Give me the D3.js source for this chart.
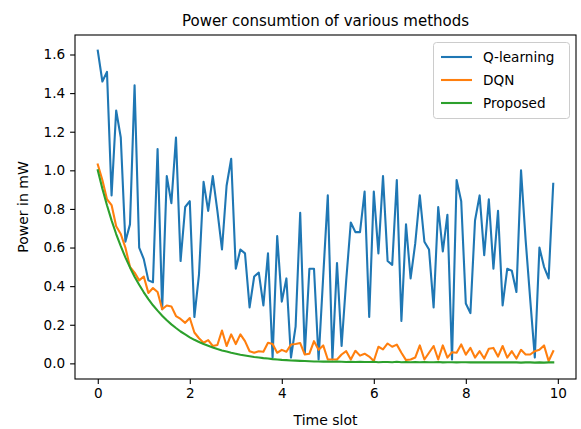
<!DOCTYPE html>
<html><head><meta charset="utf-8">
<script src="https://cdn.jsdelivr.net/npm/d3@7"></script>
<style>
html,body{margin:0;padding:0;background:#fff;}
svg{display:block;font-family:"DejaVu Sans",sans-serif;}
</style></head>
<body><svg id="c" width="581" height="429"></svg>
<script>
const timeSlots = d3.range(100).map(i => +(i * 0.1).toFixed(1));
const qLearning = [
1.62,1.46,1.51,0.87,1.31,1.17,0.63,0.72,1.44,0.60,
0.54,0.43,0.42,1.11,0.28,0.97,0.83,1.17,0.53,0.81,
0.84,0.24,0.46,0.94,0.79,0.97,0.79,0.59,0.92,1.06,
0.49,0.59,0.57,0.29,0.45,0.47,0.30,0.57,0.03,0.66,
0.32,0.44,0.03,0.19,0.78,0.05,0.49,0.49,0.02,0.45,
0.87,0.02,0.52,0.09,0.43,0.73,0.68,0.68,0.89,0.24,
0.89,0.57,0.97,0.53,0.51,0.95,0.22,0.72,0.44,0.62,
0.87,0.63,0.59,0.29,0.81,0.58,0.77,0.02,0.95,0.84,
0.31,0.26,0.74,0.87,0.56,0.85,0.49,0.79,0.30,0.49,
0.48,0.37,1.00,0.64,0.33,0.03,0.60,0.50,0.44,0.93];
const dqn = [
1.03,0.95,0.85,0.82,0.71,0.67,0.60,0.50,0.47,0.43,
0.45,0.365,0.39,0.37,0.28,0.30,0.295,0.245,0.23,0.21,
0.235,0.16,0.13,0.107,0.12,0.09,0.095,0.17,0.09,0.15,
0.10,0.15,0.115,0.063,0.055,0.063,0.06,0.107,0.10,0.055,
0.07,0.06,0.098,0.10,0.105,0.046,0.05,0.115,0.07,0.093,
0.02,0.02,0.02,0.046,0.063,0.02,0.065,0.04,0.05,0.035,
0.012,0.086,0.072,0.103,0.086,0.097,0.055,0.017,0.02,0.03,
0.093,0.02,0.055,0.09,0.02,0.093,0.03,0.058,0.055,0.098,
0.045,0.08,0.03,0.063,0.025,0.076,0.08,0.035,0.09,0.03,
0.063,0.025,0.07,0.046,0.046,0.063,0.07,0.093,0.012,0.063];
const proposed = [
1.000,0.905,0.819,0.741,0.670,0.607,0.549,0.497,0.449,0.407,
0.368,0.333,0.301,0.273,0.247,0.223,0.202,0.183,0.165,0.150,
0.135,0.122,0.111,0.100,0.091,0.082,0.074,0.067,0.061,0.055,
0.050,0.045,0.041,0.037,0.033,0.030,0.027,0.025,0.022,0.020,
0.018,0.017,0.015,0.014,0.013,0.012,0.011,0.010,0.010,0.009,
0.009,0.008,0.009,0.008,0.007,0.008,0.007,0.008,0.007,0.007,
0.008,0.006,0.007,0.007,0.006,0.008,0.006,0.007,0.006,0.007,
0.006,0.007,0.006,0.006,0.007,0.005,0.006,0.006,0.005,0.006,
0.006,0.005,0.006,0.005,0.005,0.006,0.005,0.005,0.006,0.005,
0.005,0.005,0.004,0.005,0.005,0.004,0.005,0.004,0.005,0.005];
const seriesNames = ["Q-learning","DQN","Proposed"];
const seriesColors = ["#1f77b4","#ff7f0e","#2ca02c"];
const xTicks = [0,2,4,6,8,10];
const yTicks = [0,0.2,0.4,0.6,0.8,1.0,1.2,1.4,1.6];
const titleText = "Power consumtion of various methods";
const xLabel = "Time slot";
const yLabel = "Power in mW";

const svg = d3.select("#c");
const L = 75, R = 576, T = 35, B = 379;
const x = d3.scaleLinear().domain([-0.495, 10.395]).range([L, R]);
const y = d3.scaleLinear().domain([-0.081, 1.701]).range([B, T]);

const allSeries = [qLearning, dqn, proposed];
const line = d3.line().x((d,i) => x(timeSlots[i])).y(d => y(d));
allSeries.forEach((s, k) => {
  svg.append("path").datum(s).attr("d", line)
    .attr("fill","none").attr("stroke", seriesColors[k])
    .attr("stroke-width", 2.1).attr("stroke-linejoin","round").attr("stroke-linecap","square");
});

const fs = "13.6px";
const xa = svg.append("g").attr("transform", `translate(0,${B})`)
  .call(d3.axisBottom(x).tickValues(xTicks).tickFormat(d3.format("d")).tickSize(4.9).tickPadding(4.9));
const ya = svg.append("g").attr("transform", `translate(${L},0)`)
  .call(d3.axisLeft(y).tickValues(yTicks).tickFormat(d3.format(".1f")).tickSize(4.9).tickPadding(4.9));
[xa, ya].forEach(a => {
  a.select(".domain").remove();
  a.selectAll("line").attr("stroke","#000").attr("stroke-width",1.1);
  a.selectAll("text").attr("font-size", fs).attr("font-family","DejaVu Sans").attr("fill","#000");
});

svg.append("rect").attr("x", L).attr("y", T).attr("width", R - L).attr("height", B - T)
  .attr("fill","none").attr("stroke","#000").attr("stroke-width",1.1);

svg.append("text").attr("x", (L + R) / 2).attr("y", 26).attr("text-anchor","middle")
  .attr("font-size","15px").attr("fill","#000").text(titleText);
svg.append("text").attr("x", (L + R) / 2).attr("y", 425).attr("text-anchor","middle")
  .attr("font-size","14px").attr("fill","#000").text(xLabel);
svg.append("text").attr("transform", `translate(28,${(T + B) / 2}) rotate(-90)`).attr("text-anchor","middle")
  .attr("font-size","14px").attr("fill","#000").text(yLabel);

// legend
const lg = svg.append("g");
lg.append("rect").attr("x", 433.5).attr("y", 42.5).attr("width", 136).attr("height", 76).attr("rx", 3)
  .attr("fill","#fff").attr("fill-opacity",0.8).attr("stroke","#cccccc").attr("stroke-width",1);
seriesNames.forEach((n, k) => {
  const yy = 57 + k * 23;
  lg.append("line").attr("x1", 441).attr("x2", 472).attr("y1", yy).attr("y2", yy)
    .attr("stroke", seriesColors[k]).attr("stroke-width", 2.1);
  lg.append("text").attr("x", 483).attr("y", yy + 5).attr("font-size", fs).attr("fill","#000").text(n);
});
</script></body></html>
